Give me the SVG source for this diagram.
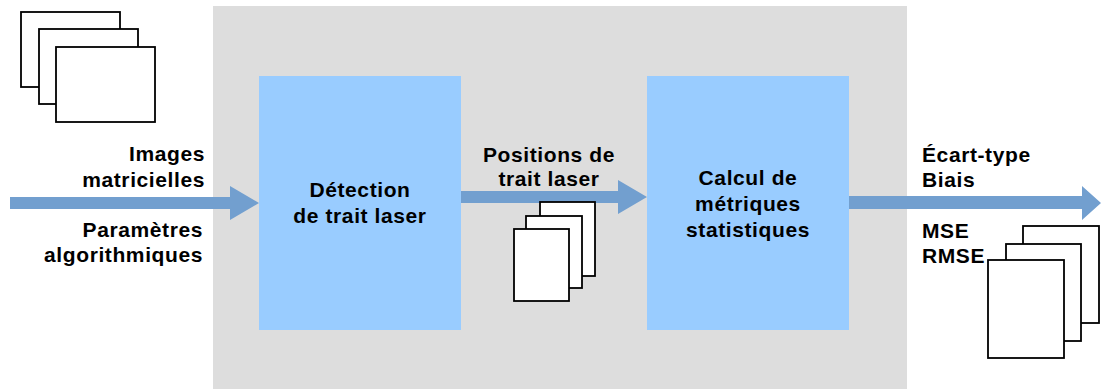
<svg xmlns="http://www.w3.org/2000/svg" width="1101" height="389" viewBox="0 0 1101 389">
<style>
.t{font-family:"Liberation Sans",Arial,sans-serif;font-weight:bold;font-size:21px;letter-spacing:0.6px;fill:#000}
.page{fill:#fff;stroke:#000;stroke-width:1.8}
.box{fill:#99ccff}
.arr{fill:#729fcf}
</style>
<rect x="213" y="6" width="694" height="383" fill="#dddddd"/>
<g id="stack-input">
<rect class="page" x="21" y="12" width="99" height="75"/>
<rect class="page" x="39" y="29" width="99" height="75"/>
<rect class="page" x="56" y="47" width="99" height="75"/>
</g>
<g id="connectors">
<path class="arr" d="M10 197H230V186L259 203L230 220V209H10Z"/>
<path class="arr" d="M461 191H618V180L647 197L618 214V203H461Z"/>
<path class="arr" d="M846 196H1082V186L1101 203L1082 220V209H846Z"/>
</g>
<g id="input-labels">
<text class="t" x="205" y="161" text-anchor="end">Images</text>
<text class="t" x="205" y="187" text-anchor="end">matricielles</text>
<text class="t" x="203" y="237" text-anchor="end">Paramètres</text>
<text class="t" x="203" y="262" text-anchor="end">algorithmiques</text>
</g>
<g id="node-detection">
<rect class="box" x="259" y="76" width="202" height="254"/>
<text class="t" x="360" y="197" text-anchor="middle">Détection</text>
<text class="t" x="360" y="223" text-anchor="middle">de trait laser</text>
</g>
<g id="positions">
<text class="t" x="549" y="162" text-anchor="middle">Positions de</text>
<text class="t" x="549" y="186" text-anchor="middle">trait laser</text>
<rect class="page" x="540" y="202" width="55" height="74"/>
<rect class="page" x="526" y="216" width="56" height="72"/>
<rect class="page" x="514" y="229" width="55" height="72"/>
</g>
<g id="node-calcul">
<rect class="box" x="647" y="76" width="202" height="254"/>
<text class="t" x="748" y="185" text-anchor="middle">Calcul de</text>
<text class="t" x="748" y="211" text-anchor="middle">métriques</text>
<text class="t" x="748" y="237" text-anchor="middle">statistiques</text>
</g>
<g id="output">
<text class="t" x="922" y="162">Écart-type</text>
<text class="t" x="922" y="187">Biais</text>
<text class="t" x="922" y="238">MSE</text>
<text class="t" x="922" y="263">RMSE</text>
<rect class="page" x="1023" y="226" width="76" height="97"/>
<rect class="page" x="1006" y="244" width="75" height="97"/>
<rect class="page" x="988" y="260" width="76" height="98"/>
</g>
</svg>
